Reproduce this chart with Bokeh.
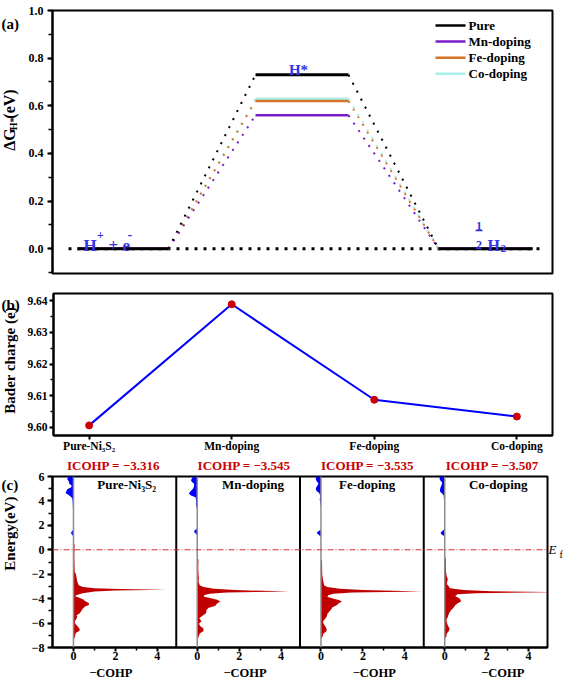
from bokeh.plotting import figure
from bokeh.models import (Label, Span, FixedTicker, SingleIntervalTicker, Range1d,
                          PrintfTickFormatter, CustomJSTickFormatter, LinearAxis)
from bokeh.layouts import column, row
from bokeh.core.properties import value
from bokeh.embed import file_html
from bokeh.resources import INLINE

FONT = "Liberation Serif"
BLUE_TXT = "#3434E6"
RED_FILL = "#C00000"
BLUE_FILL = "#0000FF"
RED_TXT = "#CC0000"

# ---------------- data ----------------
series_names = ["Pure", "Mn-doping", "Fe-doping", "Co-doping"]
series_colors = ["#000000", "#7A1CC8", "#D4752A", "#A9F0EC"]
dG_pure = [0.0, 0.73, 0.0]
dG_mn = [0.0, 0.56, 0.0]
dG_fe = [0.0, 0.62, 0.0]
dG_co = [0.0, 0.63, 0.0]

bader_labels = ["Pure-Ni₃S₂", "Mn-doping", "Fe-doping", "Co-doping"]
bader_charge = [9.6006, 9.6389, 9.6087, 9.6034]

cohp_titles = ["Pure-Ni₃S₂", "Mn-doping", "Fe-doping", "Co-doping"]
icohp_values = [-3.316, -3.545, -3.535, -3.507]

pure_E = [6.0, 5.8, 5.6, 5.4, 5.25, 5.1, 4.95, 4.8, 4.65, 4.5, 4.35, 4.2, 4.0, 3.6, 3.2, 3.0,
          2.8, 1.7, 1.55, 1.4, 1.25, 1.1, 0.6, 0.45, 0.2, -0.5, -1.2, -1.8, -2.0, -2.3, -2.6,
          -2.9, -3.05, -3.15, -3.22, -3.28, -3.34, -3.42, -3.55, -3.7, -3.8, -3.9, -4.05, -4.2,
          -4.35, -4.5, -4.65, -4.8, -5.0, -5.2, -5.35, -5.5, -5.7, -5.9, -6.1, -6.3, -6.5,
          -6.65, -6.8, -7.0, -7.2, -7.3]
pure_cohp = [-0.25, -0.3, -0.22, -0.2, -0.08, -0.12, -0.3, -0.34, -0.38, -0.25, -0.12, -0.06,
             -0.04, -0.03, -0.02, -0.01, 0.0, 0.0, -0.05, -0.12, -0.08, 0.0, 0.0, 0.05, 0.05,
             0.04, 0.05, 0.06, 0.12, 0.15, 0.18, 0.25, 0.45, 1.0, 2.2, 4.4, 2.0, 1.0, 0.45,
             0.15, 0.08, 0.25, 0.45, 0.55, 0.72, 0.75, 0.55, 0.45, 0.38, 0.3, 0.15, 0.18, 0.12,
             0.06, 0.1, 0.22, 0.3, 0.28, 0.12, 0.08, 0.06, 0.0]

mn_E = [6.0, 5.85, 5.7, 5.55, 5.4, 5.2, 5.0, 4.8, 4.6, 4.45, 4.3, 4.0, 3.7, 3.5, 3.2, 1.75,
        1.6, 1.45, 1.3, 1.15, -0.7, -0.8, -1.5, -2.0, -2.3, -2.6, -2.9, -3.05, -3.2, -3.3,
        -3.42, -3.5, -3.6, -3.7, -3.82, -3.95, -4.1, -4.24, -4.4, -4.6, -4.75, -4.9, -5.2,
        -5.4, -5.6, -5.85, -6.05, -6.25, -6.45, -6.65, -6.85, -7.05, -7.25, -7.3]
mn_cohp = [-0.2, -0.25, -0.3, -0.25, -0.15, -0.15, -0.2, -0.32, -0.4, -0.3, -0.08, -0.05,
           -0.06, -0.03, 0.0, 0.0, -0.12, -0.15, -0.05, 0.0, 0.0, 0.06, 0.05, 0.06, 0.08, 0.06,
           0.12, 0.3, 0.8, 1.8, 4.4, 1.4, 0.6, 0.35, 0.3, 0.6, 0.95, 1.1, 0.95, 0.85, 0.55,
           0.45, 0.42, 0.25, 0.1, 0.2, 0.08, 0.15, 0.3, 0.3, 0.12, 0.08, 0.04, 0.0]

fe_E = [6.0, 5.8, 5.6, 5.45, 5.3, 5.15, 4.95, 4.8, 4.65, 4.4, 4.1, 3.8, 3.5, 1.65, 1.5, 1.35,
        1.2, 1.05, -0.75, -0.85, -2.0, -2.5, -2.9, -3.05, -3.2, -3.3, -3.42, -3.5, -3.6, -3.72,
        -3.85, -4.0, -4.12, -4.24, -4.38, -4.55, -4.7, -4.85, -5.05, -5.25, -5.45, -5.65,
        -5.85, -6.05, -6.3, -6.5, -6.7, -6.9, -7.1, -7.3]
fe_cohp = [-0.22, -0.25, -0.2, -0.12, -0.15, -0.22, -0.25, -0.2, -0.08, -0.04, -0.06, -0.03,
           0.0, 0.0, -0.15, -0.2, -0.08, 0.0, 0.0, 0.05, 0.06, 0.1, 0.15, 0.3, 0.9, 2.0, 4.85,
           1.5, 0.6, 0.35, 0.3, 0.6, 0.85, 1.0, 0.85, 0.75, 0.55, 0.5, 0.4, 0.3, 0.28, 0.2,
           0.1, 0.12, 0.22, 0.28, 0.25, 0.1, 0.08, 0.0]

co_E = [6.0, 5.85, 5.7, 5.5, 5.3, 5.1, 4.9, 4.75, 4.6, 4.45, 4.2, 3.9, 3.6, 3.3, 1.7, 1.55,
        1.4, 1.25, 1.1, -0.6, -0.7, -1.8, -2.2, -2.4, -2.6, -2.8, -3.0, -3.15, -3.3, -3.4,
        -3.47, -3.55, -3.65, -3.8, -3.96, -4.1, -4.24, -4.4, -4.55, -4.75, -4.95, -5.15,
        -5.35, -5.5, -5.7, -5.95, -6.2, -6.45, -6.65, -6.85, -7.1, -7.3]
co_cohp = [-0.22, -0.25, -0.22, -0.12, -0.15, -0.2, -0.23, -0.22, -0.12, -0.05, -0.04, -0.03,
           -0.02, 0.0, 0.0, -0.1, -0.2, -0.15, 0.0, 0.0, 0.05, 0.06, 0.1, 0.15, 0.12, 0.1, 0.2,
           0.25, 0.9, 2.2, 5.3, 1.5, 0.6, 0.5, 0.7, 0.75, 0.78, 0.6, 0.5, 0.42, 0.3, 0.22,
           0.17, 0.15, 0.08, 0.1, 0.15, 0.23, 0.2, 0.1, 0.08, 0.0]

# ---------------- layout constants (pixels) ----------------
W = 565
SW = 24
A_H, A_L, A_R, A_T, A_B = 282, 52 - SW, 13, 10, 9
B_H, B_L, B_R, B_T, B_B = 172, 50 - SW, 13, 11, 18
C_H, C_L, C_R, C_T, C_B = 211, 52 - SW, 13, 21, 18
C_BOT = 14
A_X, A_Y = (0.0, 10.0), (-0.104, 1.0)
B_X, B_Y = (-0.25, 3.25), (9.5974, 9.6423)
PANEL_W = 5.9
C_X, C_Y = (-1.0, 4 * PANEL_W - 1.0), (-8.0, 6.0)

level_x0 = [0.5, 4.06, 7.72]
level_x1 = [2.32, 5.92, 9.6]


def make_fig(w, H, L, R, T, B, xr, yr, **kw):
    p = figure(width=w, height=H, x_range=Range1d(*xr), y_range=Range1d(*yr),
               output_backend="svg", toolbar_location=None, **kw)
    p.min_border_left = L
    p.min_border_right = R
    p.min_border_top = T
    p.min_border_bottom = B
    p.grid.visible = False
    p.outline_line_color = "black"
    p.outline_line_width = 2
    p.outline_line_alpha = 1.0
    p.background_fill_color = "white"
    p.border_fill_color = "white"
    return p


def strip(w, h):
    """text-only figure; data units are pixels, x rightward, y upward from the bottom"""
    s = figure(width=w, height=h, x_range=Range1d(0, w), y_range=Range1d(0, h),
               output_backend="svg", toolbar_location=None, x_axis_location=None,
               y_axis_location=None, title=None, min_border=0)
    s.min_border_left = 0
    s.min_border_right = 0
    s.min_border_top = 0
    s.min_border_bottom = 0
    s.outline_line_color = None
    s.grid.visible = False
    s.background_fill_color = "white"
    s.border_fill_color = "white"
    return s


def style_axis(ax, size, standoff=3):
    ax.axis_line_width = 2
    ax.axis_line_color = "black"
    ax.major_tick_line_width = 2
    ax.minor_tick_line_width = 1.5
    ax.major_tick_in = 0
    ax.major_tick_out = 5
    ax.minor_tick_in = 0
    ax.minor_tick_out = 4
    ax.major_label_text_font = FONT
    ax.major_label_text_font_style = "bold"
    ax.major_label_text_font_size = size
    ax.major_label_text_color = "black"
    ax.major_label_standoff = standoff


def text_axis(ticks, labels, size, color="black", fstyle="bold", standoff=0):
    ax = LinearAxis(ticker=FixedTicker(ticks=ticks, minor_ticks=[]),
                    major_label_overrides=dict(zip(ticks, labels)))
    ax.axis_line_color = None
    ax.major_tick_line_color = None
    ax.minor_tick_line_color = None
    ax.major_tick_out = 0
    ax.major_tick_in = 0
    ax.major_label_standoff = standoff
    ax.major_label_text_font = FONT
    ax.major_label_text_font_size = size
    ax.major_label_text_font_style = fstyle
    ax.major_label_text_color = color
    return ax


def lab(p, x, y, text, size, color="black", style="bold", align="left",
        baseline="alphabetic", angle=0):
    p.add_layout(Label(x=x, y=y, text=text, text_font=FONT, text_font_size=f"{size}px",
                       text_font_style=style, text_color=color, text_align=align,
                       text_baseline=baseline, angle=angle, angle_units="deg"))


def slab(s, h, cx, cy, text, size, **kw):
    """label in a strip, by canvas pixel measured from the strip's top-left"""
    lab(s, cx, h - cy, text, size, **kw)


def panel_letter(s, h, cx, cy_base, text):
    """panel letter drawn as a text glyph, baseline at canvas pixel cy_base"""
    s.text(x=[cx], y=[h - cy_base], text=[text], text_font=value(FONT),
           text_font_size="15px", text_font_style="bold", text_color="black",
           text_align="left", text_baseline="alphabetic")


# ================= (a) =================
pa = make_fig(W - SW, A_H, A_L, A_R, A_T, A_B, A_X, A_Y, x_axis_location=None)
style_axis(pa.yaxis[0], "12px", 4)
pa.yaxis.ticker = SingleIntervalTicker(interval=0.2, num_minor_ticks=2)
pa.yaxis.formatter = PrintfTickFormatter(format="%.1f")

pa.segment(x0=[0.32], y0=[0.0], x1=[9.86], y1=[0.0], line_color="black",
           line_width=3, line_dash="3 6")

dG_all = [dG_pure, dG_mn, dG_fe, dG_co]
for idx in [3, 2, 1, 0]:
    vals = dG_all[idx]
    col = series_colors[idx]
    pa.segment(x0=level_x1[:-1], y0=vals[:-1], x1=level_x0[1:], y1=vals[1:],
               line_color=col, line_width=2, line_dash="2 7")
    pa.segment(x0=level_x0, y0=vals, x1=level_x1, y1=vals, line_color=col,
               line_width=3 if idx == 0 else 2.5)

leg_y0, leg_dy = 0.937, 0.0675
for i, (nm, col) in enumerate(zip(series_names, series_colors)):
    yy = leg_y0 - i * leg_dy
    pa.segment(x0=[7.66], y0=[yy], x1=[8.26], y1=[yy], line_color=col, line_width=2.5)
    lab(pa, 8.32, yy, nm, 13, baseline="middle")

lab(pa, 4.92, 0.75, "H*", 15, color=BLUE_TXT, align="center")
lab(pa, 0.62, 0.014, "H", 17, color=BLUE_TXT)
lab(pa, 0.89, 0.056, "+", 12, color=BLUE_TXT)
lab(pa, 1.12, 0.014, "+ e", 17, color=BLUE_TXT)
lab(pa, 1.50, 0.06, "-", 14, color=BLUE_TXT)
lab(pa, 8.53, 0.094, "1", 12, color=BLUE_TXT, align="center")
pa.segment(x0=[8.46], y0=[0.077], x1=[8.6], y1=[0.077], line_color=BLUE_TXT, line_width=1.5)
lab(pa, 8.53, 0.014, "2", 12, color=BLUE_TXT, align="center")
lab(pa, 8.70, 0.014, "H", 16, color=BLUE_TXT)
lab(pa, 8.96, 0.0, "2", 11, color=BLUE_TXT)

sa = strip(SW, A_H)
panel_letter(sa, A_H, 1, 14, "(a)")
slab(sa, A_H, 9, 150.5, "ΔG", 16, angle=90)
slab(sa, A_H, 12.5, 128.5, "H*", 10, angle=90)
slab(sa, A_H, 9, 116, "(eV)", 16, angle=90)

# ================= (b) =================
pb = make_fig(W - SW, B_H, B_L, B_R, B_T, B_B, B_X, B_Y)
style_axis(pb.yaxis[0], "11.5px", 2)
style_axis(pb.xaxis[0], "11.5px", 0)
pb.yaxis.major_tick_out = 4
pb.yaxis.minor_tick_out = 3
pb.xaxis.major_tick_out = 4
pb.yaxis.ticker = SingleIntervalTicker(interval=0.01, num_minor_ticks=2)
pb.yaxis.formatter = PrintfTickFormatter(format="%.2f")
cat_x = list(range(len(bader_labels)))
pb.xaxis.ticker = FixedTicker(ticks=cat_x, minor_ticks=[])
pb.xaxis.major_label_overrides = {i: t for i, t in zip(cat_x, bader_labels)}
pb.line(cat_x, bader_charge, line_color="#0000FF", line_width=2)
pb.scatter(cat_x, bader_charge, marker="circle", size=7, fill_color="#CC0000",
           line_color="#CC0000")

sb = strip(SW, B_H)
panel_letter(sb, B_H, 1, 14, "(b)")
slab(sb, B_H, 9, 81, "Bader charge (e)", 15, angle=90, align="center")

# ================= (c) =================
pc = make_fig(W - SW, C_H, C_L, C_R, C_T, C_B, C_X, C_Y)
style_axis(pc.yaxis[0], "12px", 3)
style_axis(pc.xaxis[0], "12px", 0)
pc.xaxis.major_tick_out = 4
pc.xaxis.minor_tick_out = 3
pc.yaxis.ticker = SingleIntervalTicker(interval=2, num_minor_ticks=2)
c_major = [v + PANEL_W * k for k in range(4) for v in (0, 2, 4)]
c_minor = [v + PANEL_W * k for k in range(4) for v in (1, 3)]
pc.xaxis.ticker = FixedTicker(ticks=c_major, minor_ticks=c_minor)
pc.xaxis.formatter = CustomJSTickFormatter(
    code="const k = Math.floor((tick + 1) / 5.9 + 1e-6); return String(Math.round(tick - 5.9 * k));")

cohp_E = [pure_E, mn_E, fe_E, co_E]
cohp_V = [pure_cohp, mn_cohp, fe_cohp, co_cohp]
title_x = [2.54, 2.66, 2.2, 2.55]
icohp_x = [1.91, 2.24, 2.22, 2.27]
xlab_x = [1.75, 2.19, 2.39, 2.55]

icohp_ticks = [PANEL_W * k + icohp_x[k] for k in range(4)]
icohp_text = [f"ICOHP = \u2212{abs(v):.3f}" for v in icohp_values]
pc.add_layout(text_axis(icohp_ticks, icohp_text, "13px", color=RED_TXT, standoff=4), "above")

E_F = 0.0
F_SUB = -0.35
pc.add_layout(text_axis([E_F], ["E"], "13px", fstyle="italic", standoff=1), "right")
pc.add_layout(text_axis([F_SUB], ["f"], "10px", fstyle="normal", standoff=0), "right")

C_FW = (W - SW) - C_L - C_R


def c_page_x(xd):
    return SW + C_L + (xd - C_X[0]) / (C_X[1] - C_X[0]) * C_FW


sc_bot = strip(W, C_BOT)

for k in range(4):
    off = PANEL_W * k
    E = cohp_E[k]
    V = cohp_V[k]
    base = [off] * len(E)
    pos = [off + max(v, 0.0) for v in V]
    neg = [off + min(v, 0.0) for v in V]
    pc.harea(x1=base, x2=pos, y=E, fill_color=RED_FILL, fill_alpha=1.0)
    pc.harea(x1=base, x2=neg, y=E, fill_color=BLUE_FILL, fill_alpha=1.0)
    pc.add_layout(Span(location=off, dimension="height", line_color="#8C8C8C",
                       line_width=1.5))
    if k < 3:
        pc.add_layout(Span(location=off + PANEL_W - 1.0, dimension="height",
                           line_color="black", line_width=2))
    lab(pc, off + title_x[k], 5.35, cohp_titles[k], 13, align="center", baseline="middle")
    slab(sc_bot, C_BOT, c_page_x(off + xlab_x[k]), 7, "\u2212COHP", 12.5, align="center",
         baseline="middle")

pc.add_layout(Span(location=0, dimension="width", line_color="#D03030", line_width=1,
                   line_dash="6 2 1 2"))

scl = strip(SW, C_H)
panel_letter(scl, C_H, 1, 11, "(c)")
slab(scl, C_H, 9, 70.5, "Energy(eV)", 15, angle=90, align="center")

layout = column(row(sa, pa), row(sb, pb), row(scl, pc), sc_bot)
open("out.html", "w").write(file_html(layout, INLINE))
